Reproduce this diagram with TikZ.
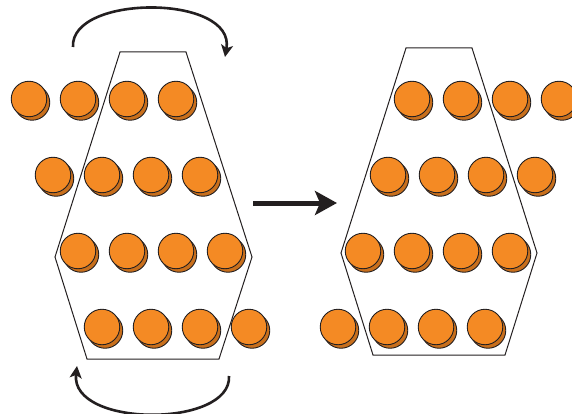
\documentclass[tikz,border=0pt]{standalone}
\usetikzlibrary{arrows.meta}
\definecolor{coinor}{HTML}{F48A24}
\definecolor{coinsh}{HTML}{C86F1C}
\definecolor{ink}{HTML}{231F20}
\begin{document}
\begin{tikzpicture}[x=1pt,y=-1pt,
  coin/.style={circle, inner sep=0pt, minimum size=35.5pt, fill=coinor, draw=ink, line width=0.9pt,
    preaction={fill=coinsh, draw=ink, line width=0.9pt, transform canvas={shift={(3pt,-3.5pt)}}}},
  hexline/.style={draw=ink, line width=1pt, line join=miter},
  curvarrow/.style={draw=ink, line width=2.6pt, -{Stealth[length=12pt,width=12pt,inset=3pt]}},
  mainarrow/.style={draw=ink, line width=5pt, -{Stealth[length=22pt,width=24pt,inset=5pt]}}]
\useasboundingbox (0,0) rectangle (572,414);
% hexagons
\draw[hexline] (120,52) -- (186,52) -- (252,257) -- (219,359) -- (87,359) -- (55,257) -- cycle;
\draw[hexline] (406,48) -- (472,48) -- (537,253) -- (505,355) -- (373,355) -- (341,253) -- cycle;
% left coins
\foreach \x [count=\i] in {29,78,127,176} \node[coin] (La\i) at (\x,99) {};
\foreach \x [count=\i] in {53,102,151,200} \node[coin] (Lb\i) at (\x,175) {};
\foreach \x [count=\i] in {78,127,176,225} \node[coin] (Lc\i) at (\x,251) {};
\foreach \x [count=\i] in {102,151,200,249} \node[coin] (Ld\i) at (\x,327) {};
% right coins
\foreach \x [count=\i] in {412,461,510,559} \node[coin] (Ra\i) at (\x,99) {};
\foreach \x [count=\i] in {388,437,486,535} \node[coin] (Rb\i) at (\x,175) {};
\foreach \x [count=\i] in {363,412,461,510} \node[coin] (Rc\i) at (\x,251) {};
\foreach \x [count=\i] in {338,387,436,485} \node[coin] (Rd\i) at (\x,327) {};
% arrows
\coordinate (ta) at (73,47);
\coordinate (tb) at (225,57);
\coordinate (ba) at (229,376);
\coordinate (bb) at (77,366);
\coordinate (ma) at (253,203);
\coordinate (mb) at (337,203);
\draw[curvarrow] (ta) .. controls (70,-6) and (236,-6) .. (tb);
\draw[curvarrow] (ba) .. controls (232,428) and (70,428) .. (bb);
\draw[mainarrow] (ma) -- (mb);
\end{tikzpicture}
\end{document}
